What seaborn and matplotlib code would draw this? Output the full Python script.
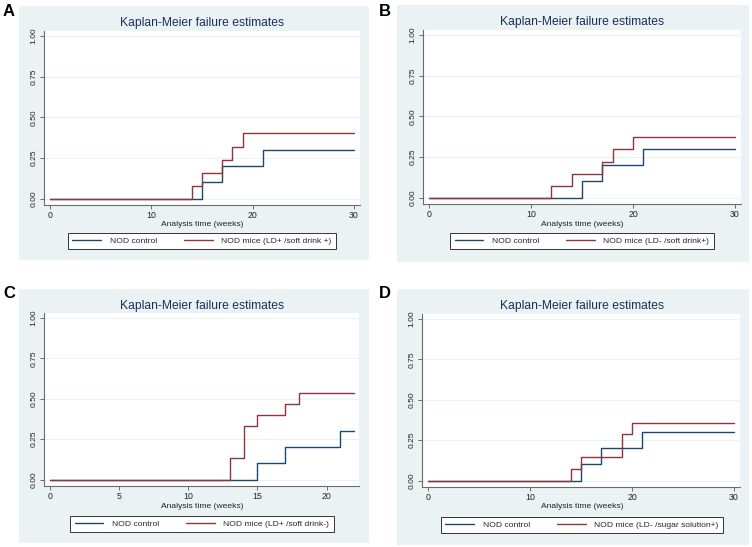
import matplotlib
matplotlib.use("Agg")
import matplotlib.pyplot as plt
from matplotlib.patches import Rectangle
from matplotlib.lines import Line2D
import seaborn as sns
import pandas as pd

sns.set_theme(style="white")
plt.rcParams['font.family'] = ['Liberation Sans', 'DejaVu Sans']

W, H = 752, 547

# ---------------- data ----------------
title = "Kaplan-Meier failure estimates"
xlabel = "Analysis time (weeks)"
panel_letters = ["A", "B", "C", "D"]

control_time = [0, 15, 17, 21, 30]
control_fail = [0.0, 0.10, 0.20, 0.30, 0.30]
control_time_c = [0, 15, 17, 21, 22]
control_fail_c = [0.0, 0.10, 0.20, 0.30, 0.30]

a_time = [0, 14, 15, 17, 18, 19, 30]
a_fail = [0.0, 0.077, 0.154, 0.235, 0.32, 0.405, 0.405]
b_time = [0, 12, 14, 17, 18, 20, 30]
b_fail = [0.0, 0.071, 0.143, 0.22, 0.30, 0.375, 0.375]
c_time = [0, 13, 14, 15, 17, 18, 22]
c_fail = [0.0, 0.133, 0.333, 0.40, 0.467, 0.533, 0.533]
d_time = [0, 14, 15, 19, 20, 30]
d_fail = [0.0, 0.071, 0.143, 0.286, 0.357, 0.357]

legend_labels = [
    ["NOD control", "NOD mice (LD+ /soft drink +)"],
    ["NOD control", "NOD mice (LD- /soft drink+)"],
    ["NOD control", "NOD mice (LD+ /soft drink-)"],
    ["NOD control", "NOD mice (LD- /sugar solution+)"],
]
xticks_30 = [0, 10, 20, 30]
xticks_22 = [0, 5, 10, 15, 20]
yticks = [0.0, 0.25, 0.5, 0.75, 1.0]
ytick_labels = ["0.00", "0.25", "0.50", "0.75", "1.00"]

NAVY = "#1a476f"
RED = "#90353b"
BG = "#eaf2f3"
TITLE_C = "#1e2f5c"
AXIS_C = "#6b6b6b"

panels = [
    dict(bg=(19, 6, 369, 260), plot=(44, 31, 360, 205), title=(202, 23), xl=224,
         leg=(202, 241), letter=(3, 4), xlim=(-0.59, 30.59), xticks=xticks_30,
         ct=control_time, cf=control_fail, tt=a_time, tf=a_fail),
    dict(bg=(397, 5, 749, 262), plot=(423, 30, 741, 204), title=(582, 22), xl=224,
         leg=(582, 241), letter=(379, 4), xlim=(-0.59, 30.59), xticks=xticks_30,
         ct=control_time, cf=control_fail, tt=b_time, tf=b_fail),
    dict(bg=(19, 289, 369, 543), plot=(44, 313, 359, 486), title=(202, 306), xl=506,
         leg=(202, 524), letter=(3, 286), xlim=(-0.43, 22.35), xticks=xticks_22,
         ct=control_time_c, cf=control_fail_c, tt=c_time, tf=c_fail),
    dict(bg=(397, 289, 749, 545), plot=(422, 314, 740, 487), title=(582, 306), xl=507,
         leg=(582, 525), letter=(379, 286), xlim=(-0.59, 30.59), xticks=xticks_30,
         ct=control_time, cf=control_fail, tt=d_time, tf=d_fail),
]

fig = plt.figure(figsize=(W / 100, H / 100), dpi=100, facecolor="white")


def fx(x):
    return x / W


def fy(y):
    return 1 - y / H


for i, p in enumerate(panels):
    x0, y0, x1, y1 = p["bg"]
    fig.patches.append(Rectangle((fx(x0), fy(y1)), (x1 - x0) / W, (y1 - y0) / H,
                                 transform=fig.transFigure, facecolor=BG,
                                 edgecolor="none", zorder=-5))
    px0, py0, px1, py1 = p["plot"]
    ax = fig.add_axes([fx(px0), fy(py1), (px1 - px0) / W, (py1 - py0) / H])
    ax.set_zorder(2)
    ax.set_facecolor("white")

    labels = legend_labels[i]
    df = pd.DataFrame({
        "time": list(p["ct"]) + list(p["tt"]),
        "failure": list(p["cf"]) + list(p["tf"]),
        "group": [labels[0]] * len(p["ct"]) + [labels[1]] * len(p["tt"]),
    })
    sns.lineplot(data=df, x="time", y="failure", hue="group",
                 palette=[NAVY, RED], hue_order=labels, estimator=None,
                 drawstyle="steps-post", linewidth=1.0, ax=ax, legend=False)

    ax.set_xlim(*p["xlim"])
    ax.set_ylim(-0.04, 1.031)
    ax.set_xticks(p["xticks"])
    ax.set_xticklabels([str(t) for t in p["xticks"]])
    ax.set_yticks(yticks)
    ax.set_yticklabels(ytick_labels, rotation=90, va="center")
    for y in yticks:
        ax.axhline(y, color=BG, lw=0.8, zorder=0)
    ax.set_xlabel("")
    ax.set_ylabel("")
    for s in ["top", "right"]:
        ax.spines[s].set_visible(False)
    for s in ["left", "bottom"]:
        ax.spines[s].set_color(AXIS_C)
        ax.spines[s].set_linewidth(0.8)
    ax.tick_params(axis="both", direction="out", length=3, width=0.7,
                   color=AXIS_C, labelsize=6.3, pad=1.5, labelcolor="#222222",
                   left=True, bottom=True)
    ax.tick_params(axis="y", labelsize=6)
    ax.grid(False)

    fig.text(fx(p["title"][0]), fy(p["title"][1]), title, ha="center", va="center",
             fontsize=8.7, color=TITLE_C)
    fig.text(fx(p["title"][0]), fy(p["xl"]), xlabel, ha="center", va="center",
             fontsize=6.1, color="#222222")
    fig.text(fx(p["letter"][0]), fy(p["letter"][1]), panel_letters[i], ha="left",
             va="top", fontsize=12, fontweight="bold", color="black")

    handles = [Line2D([], [], color=NAVY, lw=1.0), Line2D([], [], color=RED, lw=1.0)]
    leg = ax.legend(handles, labels, loc="center",
                    bbox_to_anchor=(fx(p["leg"][0]), fy(p["leg"][1])),
                    bbox_transform=fig.transFigure, ncol=2, frameon=True,
                    fancybox=False, edgecolor="#333333", facecolor="white",
                    fontsize=6.1, handlelength=3.4, handletextpad=1.0,
                    columnspacing=3.2, borderpad=0.5, framealpha=1)
    leg.get_frame().set_linewidth(0.7)

fig.savefig("out.png", dpi=100, facecolor="white")
